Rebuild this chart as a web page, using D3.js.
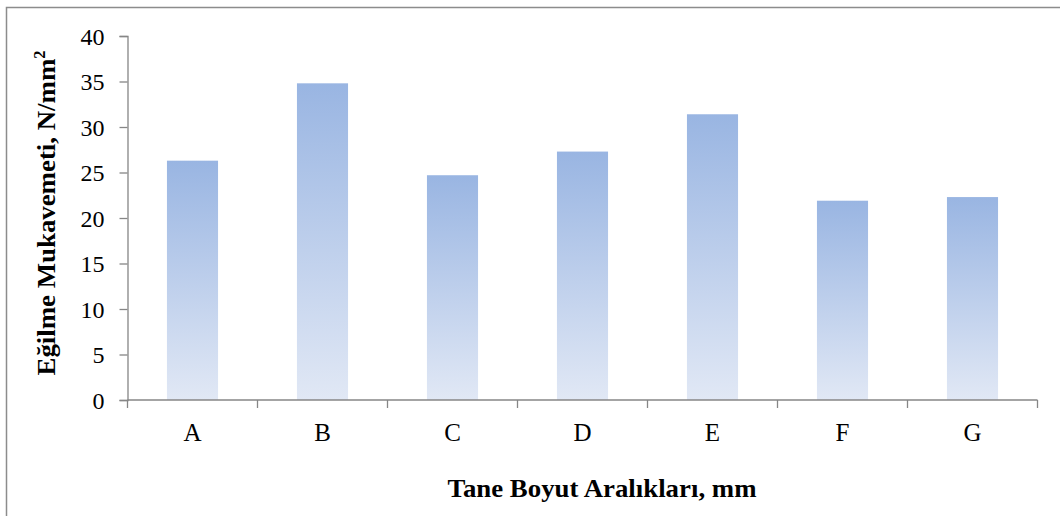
<!DOCTYPE html>
<html>
<head>
<meta charset="utf-8">
<script src="https://cdn.jsdelivr.net/npm/d3@7"></script>
<style>
  body { margin: 0; background: #fff; }
  text { font-family: "Liberation Serif", "Times New Roman", serif; }
</style>
</head>
<body>
<div id="chart"></div>
<script>
// data
var categories = ["A", "B", "C", "D", "E", "F", "G"]
var values = [26.3, 34.8, 24.7, 27.3, 31.4, 21.9, 22.3]
var yTicks = [0, 5, 10, 15, 20, 25, 30, 35, 40]

var W = 1060, H = 516
var margin = {top: 36, right: 22.5, bottom: 116, left: 127.5}

var svg = d3.select("#chart").append("svg")
    .attr("width", W)
    .attr("height", H)

// outer frame (only top and left edges show in the picture)
svg.append("rect")
    .attr("x", 6.5).attr("y", 7.5)
    .attr("width", W + 20).attr("height", H + 20)
    .attr("fill", "none")
    .attr("stroke", "#8c8c8c")
    .attr("stroke-width", 1.5)

var grad = svg.append("defs").append("linearGradient")
    .attr("id", "barGrad")
    .attr("x1", 0).attr("y1", 0).attr("x2", 0).attr("y2", 1)
grad.append("stop").attr("offset", "0%").attr("stop-color", "#99b5e2")
grad.append("stop").attr("offset", "100%").attr("stop-color", "#e1e8f5")

var x = d3.scaleBand()
    .domain(categories)
    .range([margin.left, W - margin.right])
    .paddingInner(0.607)
    .paddingOuter(0.3035)

var y = d3.scaleLinear()
    .domain([0, 40])
    .range([H - margin.bottom, margin.top])

// bars
svg.append("g")
  .selectAll("rect")
  .data(values)
  .enter()
  .append("rect")
    .attr("x", function(d, i) { return x(categories[i]) })
    .attr("y", function(d) { return y(d) })
    .attr("width", x.bandwidth())
    .attr("height", function(d) { return y(0) - y(d) })
    .attr("fill", "url(#barGrad)")

// y axis
var yAxis = svg.append("g")
    .attr("transform", "translate(" + margin.left + ",0)")
    .call(d3.axisLeft(y).tickValues(yTicks).tickSizeOuter(0).tickSize(8).tickPadding(15))
yAxis.selectAll("text").attr("font-size", 24).attr("fill", "#000")
    .attr("font-family", "Liberation Serif")
    .attr("dy", "0.34em")
yAxis.selectAll("line,path").attr("stroke", "#868686").attr("stroke-width", 1.3)

// x axis: ticks sit at the band edges
var edges = categories.map(function(c) { return x(c) - x.step() * x.paddingInner() / 2 })
edges.push(W - margin.right)
var xAxis = svg.append("g")
    .attr("transform", "translate(0," + y(0) + ")")
xAxis.append("line")
    .attr("x1", margin.left).attr("x2", W - margin.right)
    .attr("stroke", "#868686").attr("stroke-width", 1.3)
xAxis.selectAll(".tk")
  .data(edges)
  .enter()
  .append("line")
    .attr("class", "tk")
    .attr("x1", function(d) { return d }).attr("x2", function(d) { return d })
    .attr("y1", 0).attr("y2", 8)
    .attr("stroke", "#868686").attr("stroke-width", 1.3)
xAxis.selectAll(".lbl")
  .data(categories)
  .enter()
  .append("text")
    .attr("class", "lbl")
    .attr("x", function(d) { return x(d) + x.bandwidth() / 2 })
    .attr("y", 41)
    .attr("text-anchor", "middle")
    .attr("font-size", 25)
    .text(function(d) { return d })

// axis titles
svg.append("text")
    .attr("x", 602)
    .attr("y", 497)
    .attr("text-anchor", "middle")
    .attr("font-size", 26)
    .attr("font-weight", "bold")
    .attr("textLength", 309)
    .attr("lengthAdjust", "spacingAndGlyphs")
    .text("Tane Boyut Aralıkları, mm")

var yt = svg.append("text")
    .attr("transform", "translate(55,213) rotate(-90)")
    .attr("text-anchor", "middle")
    .attr("font-size", 26)
    .attr("font-weight", "bold")
    .attr("textLength", 325)
    .attr("lengthAdjust", "spacingAndGlyphs")
yt.append("tspan").text("Eğilme Mukavemeti, N/mm")
yt.append("tspan").attr("dy", -10).attr("font-size", 16).text("2")
</script>
</body>
</html>
